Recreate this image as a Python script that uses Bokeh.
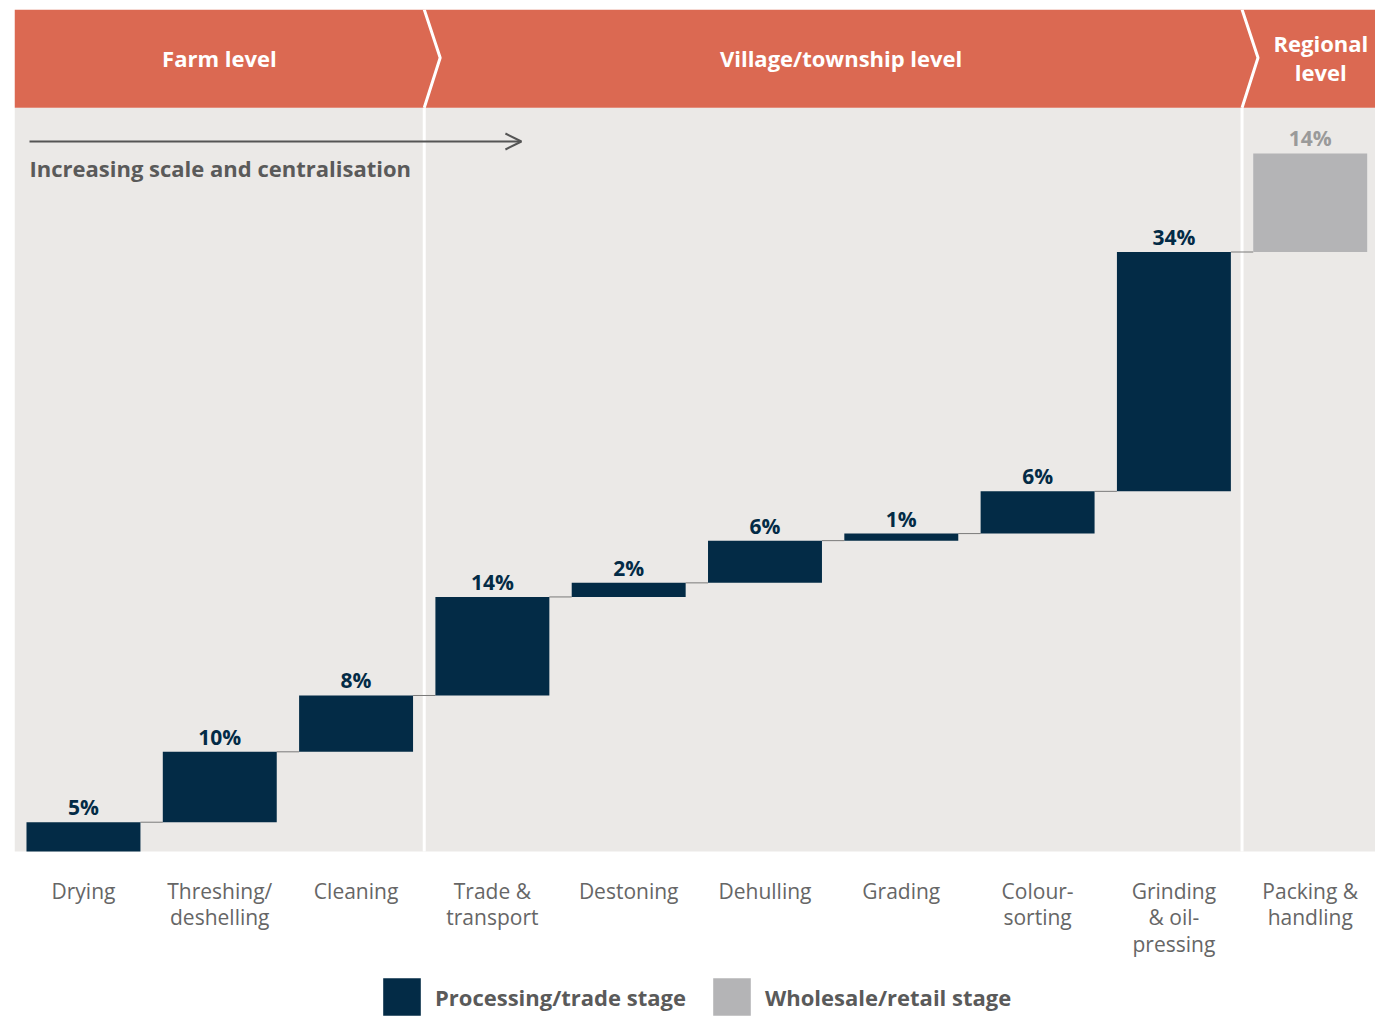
import numpy as np
from bokeh.plotting import figure
from bokeh.models import (ColumnDataSource, Range1d, Legend, LegendItem, Arrow, OpenHead)
from bokeh.core.properties import value
from bokeh.embed import file_html
from bokeh.resources import INLINE

# ---------------- data ----------------
categories = ["Drying", "Threshing/\ndeshelling", "Cleaning", "Trade &\ntransport",
              "Destoning", "Dehulling", "Grading", "Colour-\nsorting",
              "Grinding\n& oil-\npressing", "Packing &\nhandling"]
shares = [5, 10, 8, 14, 2, 6, 1, 6, 34, 14]
stages = ["Processing/trade stage"] * 9 + ["Wholesale/retail stage"]
level_names = ["Farm level", "Village/township level", "Regional\nlevel"]
level_last_index = [2, 8, 9]
arrow_text = "Increasing scale and centralisation"

# ---------------- styling ----------------
FONT = "Open Sans"
NAVY = "#032B46"
GREY_BAR = "#B4B4B6"
ORANGE = "#DB6952"
PANEL = "#EBE9E7"
TEXT_GREY = "#5A5A5A"

X0, X1 = -0.506, 9.479
Y_BOTTOM, Y1 = -22.6, 120.45     # frame extends below the panel for labels/legend
PANEL_BASE = 0.85                # panel (and bars) are cropped here
HEADER_BASE = 106.5
HEADER_MID = 113.6
BAR_W = 0.836
CHEV = 0.117

xs = np.arange(len(categories))
tops = np.cumsum(shares)
bottoms = np.maximum(tops - np.array(shares), PANEL_BASE)
stage_colors = {"Processing/trade stage": NAVY, "Wholesale/retail stage": GREY_BAR}
label_colors = {"Processing/trade stage": NAVY, "Wholesale/retail stage": "#9A9A9A"}

p = figure(x_range=Range1d(X0, X1), y_range=Range1d(Y_BOTTOM, Y1),
           frame_width=1361, frame_height=1007,
           min_border_left=14, min_border_right=0, min_border_top=9, min_border_bottom=0,
           output_backend="svg", toolbar_location=None,
           x_axis_location=None, y_axis_location=None,
           background_fill_color="white", border_fill_color="white",
           outline_line_color=None)
p.grid.visible = False

# panel + header band
p.quad(left=X0, right=X1, bottom=PANEL_BASE, top=HEADER_BASE, fill_color=PANEL, line_color=None)
p.quad(left=X0, right=X1, bottom=HEADER_BASE, top=Y1, fill_color=ORANGE, line_color=None)

# level dividers (chevrons + vertical white lines)
bounds = [level_last_index[0] + 0.5, level_last_index[1] + 0.5]
for b in bounds:
    p.line([b, b + CHEV, b], [Y1, HEADER_MID, HEADER_BASE], line_color="white", line_width=3)
    p.segment(x0=[b], y0=[PANEL_BASE], x1=[b], y1=[HEADER_BASE], line_color="white", line_width=3)

# header texts
starts = [X0] + [b + CHEV for b in bounds]
ends = bounds + [X1]
centers = [(s + e) / 2 for s, e in zip(starts, ends)]
centers[-1] += 0.03
p.text(x=centers, y=[HEADER_MID] * 3, text=level_names, text_align="center",
       text_baseline="middle", text_color="white", text_font=value(FONT),
       text_font_style="bold", text_font_size="22px", text_line_height=0.97)

# connectors
p.segment(x0=xs[:-1] + BAR_W / 2, y0=tops[:-1], x1=xs[1:] - BAR_W / 2, y1=tops[:-1],
          line_color="#7A7A7A", line_width=1)

# bars
renderers = {}
for st in ["Processing/trade stage", "Wholesale/retail stage"]:
    idx = [i for i, s in enumerate(stages) if s == st]
    src = ColumnDataSource(dict(x=xs[idx], top=tops[idx], bottom=bottoms[idx],
                                lab=[f"{shares[i]}%" for i in idx]))
    renderers[st] = p.vbar(x="x", top="top", bottom="bottom", width=BAR_W, source=src,
                           fill_color=stage_colors[st], line_color=None)
    p.text(x="x", y="top", text="lab", source=src, text_align="center",
           text_baseline="bottom", y_offset=-1, text_color=label_colors[st],
           text_font=value(FONT), text_font_style="bold", text_font_size="21px")

# arrow and caption
p.add_layout(Arrow(end=OpenHead(size=16, line_color="#555555", line_width=2),
                   x_start=-0.396, y_start=101.7, x_end=3.213, y_end=101.7,
                   line_color="#555555", line_width=2))
p.text(x=[-0.396], y=[97.9], text=[arrow_text], text_align="left", text_baseline="middle",
       text_color=TEXT_GREY, text_font=value(FONT), text_font_style="bold",
       text_font_size="22px")

# category labels (under the panel)
p.text(x=xs, y=[PANEL_BASE] * len(xs), text=categories, text_align="center",
       text_baseline="top", y_offset=26, text_color="#666666", text_font=value(FONT),
       text_font_size="21px", text_line_height=0.93)

# legend
legend = Legend(items=[LegendItem(label=st, renderers=[renderers[st]]) for st in renderers],
                orientation="horizontal", location=(364, -4),
                glyph_width=47, glyph_height=47, label_standoff=10, spacing=22,
                label_text_font=FONT, label_text_font_size="22px",
                label_text_font_style="bold", label_text_color=TEXT_GREY,
                border_line_color=None, background_fill_alpha=0, padding=0, margin=0)
p.add_layout(legend)

open("out.html", "w").write(file_html(p, INLINE))
